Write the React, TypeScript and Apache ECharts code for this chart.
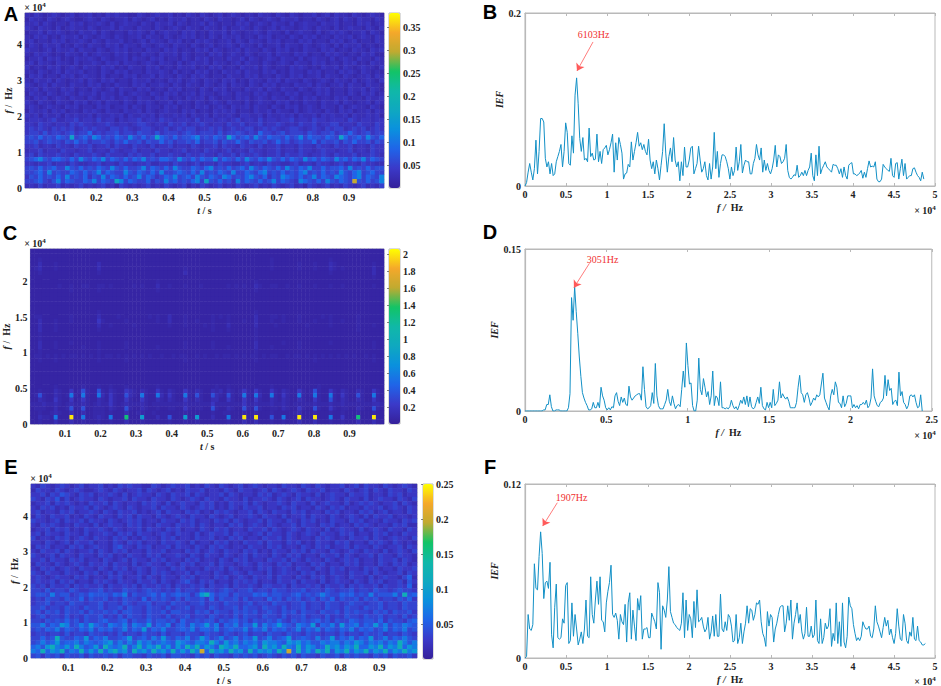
import React, { useEffect, useRef } from "react";
import * as echarts from "echarts";

const SERIF = "Liberation Serif";
const BIN_B = 190.73;
const BIN_D = 95.37;
const BIN_F = 190.73;

const ticksT = [0.1, 0.2, 0.3, 0.4, 0.5, 0.6, 0.7, 0.8, 0.9];
const barTicksA = [0.05, 0.1, 0.15, 0.2, 0.25, 0.3, 0.35];
const barTicksC = [0.2, 0.4, 0.6, 0.8, 1, 1.2, 1.4, 1.6, 1.8, 2];
const barTicksE = [0.05, 0.1, 0.15, 0.2, 0.25];
const colours = ["#35209a", "#3b39c8", "#2064e8", "#0a90de", "#0fa8c0", "#10b8a8", "#12c466", "#c0aa30", "#f5a82a", "#ffff00"];

const levelsA = [0.005, 0.015, 0.025, 0.035, 0.05, 0.065, 0.085, 0.115, 0.16, 0.3];
const levelsC = [0.02, 0.05, 0.08, 0.13, 0.2, 0.35, 0.55, 0.8, 1.3, 2.0];
const levelsE = [0.005, 0.015, 0.025, 0.035, 0.045, 0.055, 0.07, 0.09, 0.12, 0.2];

const cellsA = [
"21321232123122312132322113212322312132132123123212213221321321223123132213212321",
"13221321232112321321223132123121322312213213221231321232132231221321231321322132",
"22313212213231223213123221321322313212231321221323123213221312322132231221323122",
"32132213123221321223132213221321232132213221312232132123132212321322131232213213",
"12231323212132231321221323213123221323121322313212232132213123221312323212231321",
"21323121322313212321321223132213212323121321322312213231221321323122132231232132",
"23122132312232132132231212313221323121323212231321322132312213231221323123122132",
"13213223121321322132313221321232132213212312232132213122313221321232131322312212",
"32212313223132213212323122132213231221323132122313221321323121322132312213221323",
"21323212132213123221323121322132231321221323123213212231322132312213232122132311",
"12231323121322321321223132213231221321323122132231321232132213123221312321322132",
"23132213221312232132313221232132213123223132212313221321232132213231221323121322",
"31221323123213221323121322132312213223121323122132231321221323212132231321232213",
"22132123132231221321323122132232131221323121322313221323121322132312213232132121",
"13231221323123221312213231223132213213232122132213231221321323122313221321223132",
"21322313212231321323122132231221323123213221323121322132313221321232132213123213",
"32123132213221323121322132312232132132213212313221321323122132231321223132213221",
"22313221323122132123132213231221323122132132312213223132132213212323122132231321",
"13221321232132231322131232213213231223132212321322132312213231221323122132132312",
"21323123213221321323123213221323122132231321221323123213221321323122132312213223",
"32132213221323123132213213232122313221321232132213123221323121322132231321223132",
"23212322132312213231223132132213231221323123213223132213213231232132213123221321",
"13223132312213232132213223132123221323122132323122132231322131232213213231223132",
"32313223132322313223231322323132232313223132232133223132232313223132322313223231",
"23332342233423324233132334233243323332423323323423324233233423324332333243233233",
"33243323324343323343233234432332433423343233243342334233432324334233442332433243",
"34343243434234343324434323443234234344233434234334423434323443234324344234342343",
"34435344345344634344534435443534443454344435344543436443453444354344534464345344",
"45464546548456476454654754645865464556745465486456475465546457465546548645647546",
"44534544354645344543546445354464534454634453544643544534645345446354453546445354",
"33423324332433423342433243324233423324323342433243324233423324332433243342332433",
"23342332433233423324323342332433233423324332342332433233423324332343323342332433",
"34243334332433343243332434334233433243343324334243343233424334323343243334233432",
"45675466546475465746546465745466547546465574654647546575464654756465475646574654",
"33233423324322334233243323342233243323423324332234233243322342332433234233243322",
"45464564475464546547546445746546475446546745464564754654647546574464556474546455",
"44564745446546457465447546546474456546474546547446546745464546745464547546745644",
"35464546474546354746546457465346574564754654764546754635476546457465476546746547",
"44564357465446574654874654463547564546748546453746546457465437654647546549546457",
"23242334232342323423143232342324323413243234232432342324323423143234232432342324",
];

const cellsC = [
"11 1 111 1 111 1 11 1 111 1 11 1 111 1 111 1 111 1 11 1 111 1 11 1 111 1 111 1 111 1 11 1 111 1 11 1 111 1 111 1 111 1 11 1 111 1 111 1 11",
"11 1 111 1 111 1 11 1 111 1 11 1 111 1 111 1 111 1 11 1 111 1 11 1 111 1 111 1 111 1 11 1 111 1 11 1 111 1 111 1 111 1 11 1 111 1 111 1 11",
"11 2 111 1 111 1 11 1 111 1 11 1 111 1 111 1 111 1 11 1 111 1 11 1 111 1 111 1 111 1 11 1 111 2 11 1 111 1 111 1 111 2 11 1 111 1 111 1 11",
"11 3 111 2 111 1 11 1 111 3 11 1 111 1 111 1 111 1 11 1 111 1 11 1 111 1 111 1 111 1 11 1 111 2 11 1 111 2 111 2 111 3 21 1 111 1 111 2 11",
"12 3 111 2 111 1 11 1 111 3 11 1 111 1 111 1 111 1 11 1 111 2 11 1 111 1 111 1 111 1 11 1 111 2 11 1 111 2 111 2 111 3 21 2 111 1 111 3 11",
"11 2 111 1 111 1 11 1 111 2 11 1 111 1 111 1 111 1 11 1 111 3 11 1 111 1 111 1 111 1 11 1 111 1 11 1 111 1 111 1 111 2 11 1 111 1 111 3 11",
"11 1 111 1 111 1 11 1 111 1 11 1 111 1 111 1 111 1 11 1 111 1 11 1 111 1 111 1 111 1 11 1 111 1 11 1 111 1 111 1 111 1 11 1 111 1 111 2 11",
"11 1 111 1 111 1 11 1 111 1 11 1 111 1 111 1 111 2 11 1 111 1 11 1 111 1 111 1 111 1 11 2 111 1 11 1 111 1 111 1 111 1 11 1 111 1 111 1 11",
"11 1 111 1 211 2 11 2 211 2 21 2 111 1 121 2 111 3 11 2 111 2 11 1 211 1 111 2 121 2 11 3 211 2 21 1 211 2 111 2 111 2 11 2 111 1 111 2 11",
"11 1 111 1 111 2 11 1 111 2 11 1 111 1 111 1 111 2 11 1 111 1 11 1 111 1 111 1 111 1 11 2 111 1 11 1 111 1 111 1 111 1 11 1 111 1 111 1 11",
"11 1 111 1 111 1 11 1 111 1 11 1 111 1 111 1 111 1 11 1 111 1 11 1 111 1 111 1 111 1 11 1 111 1 11 1 111 1 111 1 111 1 11 1 111 1 111 1 11",
"11 1 111 1 111 1 11 1 111 1 11 1 111 1 111 1 111 1 11 1 111 1 11 1 111 1 111 1 111 1 11 1 111 1 11 1 111 1 111 1 111 1 11 1 111 1 111 1 11",
"11 1 111 1 111 1 11 1 111 1 11 1 111 1 111 1 111 1 11 1 111 1 11 1 111 1 111 1 111 1 11 1 111 1 11 1 111 1 111 1 111 1 11 1 111 1 111 1 11",
"11 1 111 1 111 1 11 1 111 1 11 1 111 1 111 1 111 1 11 1 111 1 11 1 111 1 111 1 111 1 11 1 111 1 11 1 111 1 111 1 111 1 11 1 111 1 111 1 11",
"11 1 111 1 111 1 11 1 111 2 11 1 111 1 111 1 111 1 11 1 111 1 11 1 111 1 111 1 111 1 11 2 111 1 11 1 111 1 111 1 111 1 11 1 111 1 111 1 11",
"12 2 111 1 111 2 11 1 111 3 11 1 121 1 111 1 121 2 11 3 111 2 11 1 111 2 121 2 111 1 11 3 111 2 21 2 111 2 111 1 121 2 11 1 111 2 111 1 11",
"11 3 111 2 111 2 11 1 111 4 21 1 111 2 111 1 111 2 11 3 111 2 11 2 111 2 111 2 111 2 11 3 111 2 11 2 111 2 111 2 111 2 11 2 111 2 111 1 11",
"11 3 111 2 111 1 11 1 111 3 11 2 111 1 121 1 111 1 11 2 111 2 11 1 121 2 111 3 111 1 11 3 111 1 21 1 111 1 121 1 111 2 11 1 111 2 111 2 11",
"11 3 111 2 111 1 11 1 111 2 11 1 111 1 111 1 111 1 11 1 111 1 11 1 111 2 111 2 111 1 11 2 111 1 11 1 111 1 111 1 111 1 11 1 111 2 111 1 11",
"11 2 111 1 111 1 11 1 111 1 11 1 111 1 111 1 111 1 11 1 111 1 11 1 111 1 111 1 111 1 11 2 111 1 11 1 111 1 111 1 111 1 11 1 111 1 111 1 11",
"11 2 111 1 111 1 11 1 111 1 11 1 111 1 111 1 111 1 11 1 111 1 11 1 111 1 111 1 111 1 11 2 111 1 11 1 111 1 111 1 111 1 11 1 111 1 111 1 11",
"11 3 111 2 111 2 11 1 111 2 11 1 111 2 111 1 111 1 11 1 111 2 11 1 111 2 111 1 111 1 11 3 111 1 11 2 111 2 111 1 111 2 11 1 111 1 111 2 11",
"11 3 111 2 111 1 11 2 111 2 11 1 111 2 111 1 111 2 11 1 111 2 11 1 111 2 111 2 111 1 11 3 111 2 11 1 111 2 111 1 111 1 11 1 111 1 111 2 11",
"11 2 111 1 111 1 11 1 111 2 11 1 111 1 111 1 111 1 11 1 111 1 11 1 111 1 111 1 111 1 11 2 111 1 11 1 111 1 111 1 111 1 11 1 111 1 111 1 11",
"12 2 121 2 121 2 21 2 121 2 12 2 121 2 121 2 121 1 21 1 212 2 11 2 121 1 212 2 121 2 12 2 121 2 21 1 212 2 121 2 121 2 12 1 212 1 121 2 11",
"11 2 111 2 111 1 11 1 111 2 11 1 111 2 111 1 111 1 11 1 111 2 11 1 111 1 111 1 111 1 11 2 111 1 11 1 111 1 111 2 111 1 11 1 111 1 111 2 11",
"11 1 111 1 111 1 11 1 111 1 11 1 111 1 111 1 111 1 11 1 111 1 11 1 111 1 111 1 111 1 11 1 111 1 11 1 111 1 111 1 111 1 11 1 111 1 111 1 11",
"11 1 111 1 111 1 11 1 111 1 11 1 111 1 111 1 111 1 11 1 111 1 11 1 111 1 111 1 111 1 11 1 111 1 11 1 111 1 111 1 111 1 11 1 111 1 111 1 11",
"11 1 111 1 111 1 11 1 111 1 11 1 111 1 111 1 111 1 11 1 111 1 11 1 111 1 111 1 111 1 11 1 111 1 11 1 111 1 111 1 111 1 11 1 111 1 111 1 11",
"11 1 111 1 111 1 11 1 111 1 11 1 111 1 111 1 111 1 11 1 111 1 11 1 111 1 111 1 111 1 11 1 111 1 11 1 111 1 111 1 111 1 11 1 111 1 111 1 11",
"11 1 111 1 111 1 11 1 111 1 11 1 111 1 111 1 111 1 11 1 111 1 11 1 111 1 111 1 111 1 11 1 111 1 11 1 111 1 111 1 111 1 11 1 111 1 111 1 11",
"11 1 111 2 111 1 11 2 111 2 11 2 111 2 111 1 111 2 11 1 111 1 11 1 111 1 211 2 111 1 11 1 111 2 11 1 111 1 111 1 211 1 11 1 111 1 111 1 11",
"11 2 111 3 211 4 12 5 211 5 21 3 211 4 321 3 211 4 21 3 211 4 21 3 211 3 231 3 212 4 21 4 211 4 21 3 211 4 212 5 211 4 21 3 211 3 211 4 21",
"12 5 211 3 212 6 21 6 211 6 31 4 211 5 321 6 211 6 31 4 211 6 21 5 211 5 321 5 212 6 21 6 311 6 21 4 211 6 212 6 211 6 21 4 211 5 211 6 21",
"11 3 211 4 211 4 12 4 211 3 21 4 211 4 211 4 211 3 21 3 211 4 21 3 211 3 311 4 211 4 21 4 211 3 21 3 211 3 211 4 211 5 21 3 211 3 211 4 21",
"22 2 322 3 212 3 22 3 212 3 22 4 212 3 222 3 212 2 22 2 222 3 22 2 222 4 222 2 222 4 22 3 222 3 22 3 212 2 222 3 222 3 22 3 222 2 222 3 32",
"12 2 211 3 112 5 12 5 112 2 21 3 211 5 211 3 211 2 11 2 211 4 21 2 211 5 211 3 211 5 21 5 211 2 21 3 211 4 211 5 211 4 21 2 211 3 211 5 21",
"11 2 112 3 211 3 11 3 112 2 21 2 111 3 112 2 112 1 11 1 111 2 11 1 111 2 112 2 111 2 11 2 111 2 11 1 112 3 111 2 111 2 11 2 111 2 111 2 11",
"11 3 221 6 111 9 11 6 112 3 21 6 111 8 111 7 111 3 11 5 111 7 11 7 111 3 111 6 111 9 11 9 111 5 11 6 111 9 111 9 111 6 11 4 111 8 111 9 11",
"11 2 111 3 111 3 11 2 111 2 11 2 111 3 111 2 111 1 11 2 111 2 11 2 111 1 111 2 111 3 11 3 111 2 11 2 111 3 111 3 111 2 11 2 111 3 111 3 11",
];

const cellsE = [
"21321232123122312132322113212322312132132123123212213221321321223123132213212321",
"13221321232112321321223132123121322312213213221231321232132231221321231321322132",
"22313243213231223213123221321322313212231321221323123213221312322132231221323122",
"32132413123221321223132213221321232132213221312232132123132212321322131232213213",
"12231323212132231321221323213123221323121322313212232132213123221312323212231321",
"21323121322313212321321223132213212323121321322312213231221321323122132231232132",
"23122132312232132132231212313221323121323212231321322132312213231221323123122132",
"13213223121321322132313221321232132213212312232132213122313221321232131322312212",
"32212313223132213212323122132213231221323132122313221321323121322132312213221323",
"21323212132213123221323121322132231321221323123213212231322132312213232122132311",
"12231323121322321321223132213231221321323122132231321232132213123221312321322132",
"23132213221312232132313221232132213123223132212313221321232132213231221323121322",
"31221323123213221323121322132312213223121323122132231321221323212132231321232213",
"22132123132231221321323122132232131221323121322313221323121322132312213232132121",
"13231221323123221342213231223132213213232122132213231221321323122313221321223132",
"21322313212231321323122132231221323123213221323121322132313221321232132213123213",
"32123132213221323121322132312232132132213212313221321323122132231321223132213221",
"22313221323122132123132213231221323122132132312213223132132213212323122132231321",
"13221321232132231322131232213213231223132212321322132312213231221323122132132312",
"21323123213221321323123213221323122132231321221323123213221321323122132312213223",
"32132213221323123132213213232122313221321232132213123221323121322132231321223132",
"23212322132312213231223132132213231221323123213223132213213231232132213123221351",
"23223132312213232132213223132123421323122132323122132231322131232213213231223142",
"32313223132322313223231322323132232313223132232133223132232313223132322313223251",
"33242332432233423224332343323242332433234323342332433233423324323342332433234332",
"34436344234354443546243345353454424785344243335453443345343464335453436344463845",
"23243324335243342324332524343242433425243342423325342434234243524334243423324352",
"23342332433233423324323342332433233423324332342332433233423324332343323342332433",
"33423324332433423342433243324233423324323342433243324233423324332433243342332433",
"34243424334243343424433243342443324342433243434234324342433243342434332434243342",
"23423324232433423242433243324233423324323242433243324233423324232433243342332423",
"33243435342433453345243353443425334344243453424334353243434534243354344352433245",
"44635476346475436546365473546245364574625463547364575436547254637456354746354654",
"34354635435463545346354735463345463554634544635463545346354635435463545346354634",
"23323324233243323242332433242332433243324323423324332433243323324233243342332432",
"33534843354735463345734536474354634753463463547346345734543634735463547346354643",
"34645745564654567464647564565476546658647564656476654767564465664657646564658646",
"56478657586457486568468576857475868576487685567486758658576458675768557685768576",
"65857684658575857867486758675857586958675867485767586958575868476857685768576867",
"34243424334243343424433243342443324342433243434234324342433243342434332434243342",
];

const seriesB = [
0,4,16,26,16,7,20,53,14,40,78,78,74,32,22,28,14,26,12,14,
28,34,40,48,22,40,73,62,26,24,58,38,105,125,95,55,40,56,30,32,
28,67,34,38,30,31,60,28,40,26,42,44,47,36,42,50,60,16,50,30,
56,48,38,8,14,15,25,22,51,30,40,50,62,46,50,42,48,40,36,54,
30,20,28,14,30,20,7,24,40,72,38,16,34,44,28,56,30,22,28,6,
28,12,45,22,22,30,44,46,14,20,26,46,30,16,20,28,12,7,26,8,
22,62,20,40,10,26,36,36,34,28,20,8,22,12,18,45,18,28,48,15,
24,30,28,28,14,14,26,32,48,36,30,44,16,30,18,26,18,14,20,30,
47,22,36,34,26,28,32,48,18,10,8,10,13,12,24,10,12,16,12,18,
12,18,22,38,12,6,36,12,46,14,20,24,28,22,20,18,16,25,24,24,
20,14,20,10,22,12,8,24,26,27,14,14,12,13,15,18,9,16,10,20,
29,22,23,22,28,8,5,5,8,25,22,20,18,17,32,12,10,26,27,8,
20,31,12,26,8,10,12,12,20,21,16,12,10,6,16,8];

const seriesD = [
0,0,0,0,0,0,0,0,0,0,0,0,1,1,6,6,15,4,0,0,
1,1,1,0,0,0,0,0,3,16,105,84,115,92,72,50,32,17,12,8,
5,1,1,2,8,3,3,8,3,22,14,10,3,1,3,1,4,3,14,17,
9,5,13,8,12,6,5,23,13,10,12,14,15,16,16,10,41,20,4,2,
3,5,17,7,44,14,5,2,2,2,6,10,20,9,5,14,7,2,5,6,
4,20,37,22,63,42,25,26,5,0,0,10,49,20,15,30,22,13,18,6,
14,37,5,14,12,5,27,3,3,2,3,2,4,10,5,2,4,1,5,10,
7,13,6,14,4,13,4,2,3,8,13,7,22,5,2,1,8,3,8,3,
20,5,7,10,27,12,16,13,11,13,9,3,3,3,3,8,22,33,17,15,
8,15,17,12,5,8,12,10,15,13,15,25,35,12,8,4,1,14,20,15,
27,22,8,7,3,14,4,7,14,14,14,3,6,3,5,2,6,6,8,6,
10,3,5,12,39,14,9,5,4,8,9,12,33,14,29,19,21,6,9,10,
5,36,14,18,8,6,2,5,14,15,13,15,8,3,4,15,0];

const seriesF = [
0,1,30,20,19,23,65,48,47,70,87,72,41,52,53,48,66,16,7,35,
51,14,13,14,27,24,50,52,10,12,38,15,30,20,9,13,18,10,20,40,
15,14,56,30,24,40,53,37,56,26,25,18,38,46,52,64,30,28,31,26,
13,30,25,23,37,11,38,45,13,33,22,12,41,33,43,13,20,20,21,14,
14,31,28,25,20,52,45,6,36,33,28,40,63,32,28,24,23,21,20,19,
24,45,14,40,19,30,27,14,39,21,47,25,26,28,22,18,20,28,13,18,
29,15,30,15,15,44,20,18,25,19,30,28,22,11,12,30,10,14,24,10,
18,24,36,24,34,33,26,30,38,37,40,25,17,14,8,32,22,30,28,11,
20,24,30,35,36,36,18,24,36,26,40,13,24,30,38,24,30,18,13,17,
35,15,15,22,14,16,40,12,10,27,10,14,24,20,22,34,8,17,12,38,
10,25,8,38,11,7,15,42,36,34,23,17,12,14,12,15,25,22,20,20,
22,15,14,20,36,25,22,18,14,21,28,22,26,16,20,14,10,17,34,22,
13,12,30,24,12,10,18,15,28,13,12,22,12,11,9,9,10];

type Anno = { text: string; at: number[]; from: number[]; to: number[] };
const annoB: Anno = { text: "6103Hz", at: [8354, 0.1746], from: [8293, 0.1665], to: [6341, 0.133] };
const annoD: Anno = { text: "3051Hz", at: [4775, 0.1407], from: [3963, 0.1368], to: [3006, 0.1142] };
const annoF: Anno = { text: "1907Hz", at: [5695, 0.1105], from: [3939, 0.1071], to: [2159, 0.091] };

const labelFont = { fontFamily: SERIF, fontWeight: "bold" as const, fontSize: 10, color: "#222" };
const BORDER = "#b9b9b9";

function buildOption() {
  const grid: any[] = [];
  const xAxis: any[] = [];
  const yAxis: any[] = [];
  const series: any[] = [];
  const visualMap: any[] = [];

  const nameStyle = (gap: number) => ({
    nameLocation: "middle",
    nameGap: gap,
    nameTextStyle: {
      ...labelFont,
      rich: {
        i: { fontFamily: SERIF, fontStyle: "italic", fontWeight: "bold", fontSize: 10, color: "#222" },
        n: { fontFamily: SERIF, fontWeight: "bold", fontSize: 10, color: "#222" },
      },
    },
  });

  function heat(p: any) {
    const g = grid.length;
    grid.push({ left: p.l, top: p.t, width: p.w, height: p.h, show: true, borderColor: BORDER, borderWidth: 1, backgroundColor: "transparent" });
    const rows: string[] = p.cells.map((r: string) => r.replace(/ /g, ""));
    const nCols = rows[0].length;
    const nRows = rows.length;
    const data: number[][] = [];
    rows.forEach((row: string, r: number) => {
      row.padEnd(nCols, "1").split("").forEach((ch: string, c: number) => {
        data.push([c, nRows - 1 - r, p.levels[Number(ch)]]);
      });
    });
    const xCat = xAxis.length;
    xAxis.push({ type: "category", gridIndex: g, show: false, data: Array.from({ length: nCols }, (_, i) => i) });
    const yCat = yAxis.length;
    yAxis.push({ type: "category", gridIndex: g, show: false, data: Array.from({ length: nRows }, (_, i) => i) });
    xAxis.push({
      type: "value", gridIndex: g, min: p.t0, max: p.t1, position: "bottom", splitLine: { show: false },
      axisLine: { show: false }, axisTick: { show: false },
      axisLabel: { ...labelFont, margin: 4, customValues: ticksT, formatter: (v: number) => String(v) },
      name: "{i|t} {n|/ s}", ...nameStyle(17),
    });
    yAxis.push({
      type: "value", gridIndex: g, min: 0, max: p.fMax, interval: p.fStep, position: "left", splitLine: { show: false },
      axisLine: { show: false }, axisTick: { show: false },
      axisLabel: { ...labelFont, margin: 3, showMaxLabel: false, formatter: (v: number) => String(v / 10000) },
      name: "{i|f} {n|/  Hz}", ...nameStyle(p.yGap),
    });
    const si = series.length;
    series.push({ type: "heatmap", xAxisIndex: xCat, yAxisIndex: yCat, data, silent: true, progressive: 0 });
    visualMap.push({
      type: "continuous", seriesIndex: si, min: 0, max: p.barMax, dimension: 2, calculable: false, hoverLink: false,
      left: p.bl, top: p.t, itemWidth: p.bw, itemHeight: p.h, padding: 0, text: ["", ""], showLabel: false,
      inRange: { color: colours },
    });
    const bg = grid.length;
    grid.push({ left: p.bl, top: p.t, width: p.bw, height: p.h, show: true, borderColor: BORDER, borderWidth: 1 });
    xAxis.push({ type: "value", gridIndex: bg, min: 0, max: 1, show: false });
    yAxis.push({
      type: "value", gridIndex: bg, min: 0, max: p.barMax, position: "right", splitLine: { show: false },
      axisLine: { show: false }, axisTick: { show: true, inside: true, length: 2, customValues: p.barTicks, lineStyle: { color: "#333", width: 0.6 } },
      axisLabel: { ...labelFont, margin: 3, customValues: p.barTicks, formatter: (v: number) => String(v) },
    });
  }

  function line(p: any) {
    const g = grid.length;
    grid.push({ left: p.l, top: p.t, width: p.w, height: p.h, show: true, borderColor: BORDER, borderWidth: 1, backgroundColor: "transparent" });
    const fmt = (v: number) => String(v / 10000);
    const tick = { show: true, inside: true, length: 3, lineStyle: { color: BORDER, width: 1 } };
    const xi = xAxis.length;
    xAxis.push({
      type: "value", gridIndex: g, min: 0, max: p.fMax, interval: p.fStep, position: "bottom", splitLine: { show: false },
      axisLine: { show: true, lineStyle: { color: BORDER, width: 1.2 } }, axisTick: tick,
      axisLabel: { ...labelFont, margin: 3, formatter: fmt, showMaxLabel: true },
      name: "{i|f /}  {n|Hz}", ...nameStyle(16),
    });
    xAxis.push({
      type: "value", gridIndex: g, min: 0, max: p.fMax, interval: p.fStep, position: "top", splitLine: { show: false },
      axisLine: { show: true, lineStyle: { color: BORDER, width: 1.2 } }, axisTick: tick, axisLabel: { show: false },
    });
    const yi = yAxis.length;
    yAxis.push({
      type: "value", gridIndex: g, min: 0, max: p.yMax, interval: p.yMax, position: "left", splitLine: { show: false },
      axisLine: { show: true, lineStyle: { color: BORDER, width: 1.2 } }, axisTick: { show: false },
      axisLabel: { ...labelFont, margin: 4, formatter: (v: number) => String(v) },
      name: "{i|IEF}", ...nameStyle(p.yGap),
    });
    const a: Anno = p.anno;
    series.push({
      type: "line", xAxisIndex: xi, yAxisIndex: yi, showSymbol: false, symbol: "none", silent: true,
      lineStyle: { color: "#1390c6", width: 1 },
      data: p.values.map((v: number, i: number) => [i * p.bin, v / 1000]),
      markLine: {
        silent: true, symbol: ["none", "arrow"], symbolSize: 7, label: { show: false },
        itemStyle: { color: "#ff3030" },
        lineStyle: { color: "#ff5a5a", width: 0.8, type: "solid" }, animation: false,
        data: [[{ coord: a.from, symbol: "none" }, { coord: a.to, symbol: "arrow", symbolSize: 7, itemStyle: { color: "#ff3030" } }]],
      },
      markPoint: {
        silent: true, symbol: "circle", symbolSize: 0, animation: false,
        data: [{ coord: a.at, label: { show: true, position: "inside", formatter: a.text, fontFamily: SERIF, fontSize: 10, color: "#f03030" } }],
      },
    });
  }

  heat({ l: 25, t: 13, w: 359, h: 175, cells: cellsA, levels: levelsA, t0: 0.003, t1: 0.997, fMax: 48950, fStep: 10000, yGap: 6, barMax: 0.382, bl: 389, bw: 11, barTicks: barTicksA });
  line({ l: 525, t: 13, w: 410, h: 173, values: seriesB, bin: BIN_B, fMax: 50000, fStep: 5000, yMax: 0.2, yGap: 19, anno: annoB });
  heat({ l: 25, t: 249, w: 359, h: 175, cells: cellsC, levels: levelsC, t0: 0.003, t1: 0.997, fMax: 24580, fStep: 5000, yGap: 14, barMax: 2.06, bl: 389, bw: 11, barTicks: barTicksC });
  line({ l: 525, t: 249, w: 410, h: 162, values: seriesD, bin: BIN_D, fMax: 25000, fStep: 5000, yMax: 0.15, yGap: 20, anno: annoD });
  heat({ l: 31, t: 484, w: 386, h: 175, cells: cellsE, levels: levelsE, t0: 0.004, t1: 0.997, fMax: 49160, fStep: 10000, yGap: 5, barMax: 0.25, bl: 423, bw: 10, barTicks: barTicksE });
  line({ l: 525, t: 484, w: 410, h: 174, values: seriesF, bin: BIN_F, fMax: 50000, fStep: 5000, yMax: 0.12, yGap: 22, anno: annoF });

  const letter = (t: string, x: number, y: number) => ({
    type: "text", x, y, silent: true,
    style: { text: t, fontFamily: "Liberation Sans", fontWeight: "bold", fontSize: 20, fill: "#000", textAlign: "center", textVerticalAlign: "middle" },
  });
  const power = (x: number, y: number) => ({
    type: "text", x, y, silent: true,
    style: {
      text: "× 10{s|4}", fontFamily: SERIF, fontSize: 10, fontWeight: "bold", fill: "#222", textAlign: "center", textVerticalAlign: "middle",
      rich: { s: { fontFamily: SERIF, fontSize: 7, fontWeight: "bold", fill: "#222", verticalAlign: "top", padding: [0, 0, 5, 0] } },
    },
  });
  const graphic = [
    letter("A", 11, 14), letter("B", 490, 12), letter("C", 10, 233),
    letter("D", 490, 232), letter("E", 11, 467), letter("F", 490, 467),
    power(35, 7), power(925, 210), power(35, 243), power(925, 435), power(41, 478), power(925, 681),
  ];

  return { animation: false, backgroundColor: "#fff", grid, xAxis, yAxis, series, visualMap, graphic };
}

export default function App() {
  const ref = useRef<HTMLDivElement>(null);
  useEffect(() => {
    const chart = echarts.init(ref.current!, undefined, { renderer: "svg" });
    chart.setOption(buildOption() as any);
    return () => chart.dispose();
  }, []);
  return <div ref={ref} style={{ position: "absolute", left: 0, top: 0, width: 941, height: 686 }} />;
}
